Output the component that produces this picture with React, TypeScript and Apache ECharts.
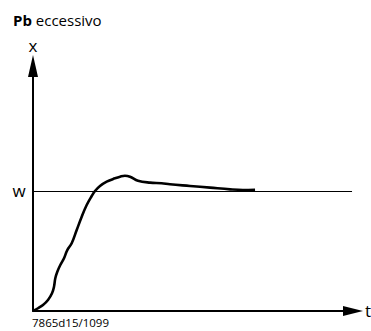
import React, { useEffect, useRef } from "react";
import * as echarts from "echarts";

const timeValues = [0, 1.57, 3.13, 4.7, 5.96, 6.58, 6.99, 7.62, 8.56, 9.72, 10.75, 12.13, 13.7, 15.27, 16.83, 18.4, 19.44, 21.0, 23.1, 25.7, 27.3, 28.8, 30.4, 32.9, 36.7, 40.3, 42.9, 49.2, 55.5, 61.8, 65.8, 69.6];
const xValues = [0, 0.023, 0.05, 0.092, 0.148, 0.203, 0.274, 0.329, 0.385, 0.441, 0.51, 0.567, 0.678, 0.789, 0.887, 0.962, 1.004, 1.046, 1.082, 1.11, 1.124, 1.132, 1.124, 1.09, 1.074, 1.069, 1.06, 1.046, 1.032, 1.018, 1.013, 1.015];
const setpointW = 1;
const wLineEnd = 100;
const axisLabels = { y: "x", x: "t", w: "w" };
const titleBold = "Pb";
const titleRest = " eccessivo";
const footnote = "7865d15/1099";

const FONT = "'Open Sans', 'DejaVu Sans', sans-serif";

export default function App() {
  const ref = useRef<HTMLDivElement>(null);
  useEffect(() => {
    if (!ref.current) return;
    const chart = echarts.init(ref.current, null, { renderer: "svg" });
    chart.setOption({
      animation: false,
      backgroundColor: "#ffffff",
      grid: { left: 33, right: 18, top: 66, bottom: 20 },
      xAxis: {
        type: "value",
        min: 0,
        max: 100.3,
        axisLine: {
          show: true,
          symbol: ["none", "triangle"],
          symbolSize: [10, 20],
          lineStyle: { color: "#000", width: 2 },
        },
        axisTick: { show: false },
        axisLabel: { show: false },
        splitLine: { show: false },
      },
      yAxis: {
        type: "value",
        min: 0,
        max: 2.05,
        axisLine: {
          show: true,
          symbol: ["none", "triangle"],
          symbolSize: [10, 22],
          lineStyle: { color: "#000", width: 2 },
        },
        axisTick: { show: false },
        axisLabel: { show: false },
        splitLine: { show: false },
      },
      series: [
        {
          type: "line",
          data: timeValues.map((t, i) => [t, xValues[i]]),
          smooth: 0.4,
          showSymbol: false,
          lineStyle: { color: "#000", width: 2.6 },
          markLine: {
            silent: true,
            symbol: ["none", "none"],
            label: { show: false },
            lineStyle: { color: "#000", width: 1, type: "solid" },
            data: [[{ coord: [0, setpointW] }, { coord: [wLineEnd, setpointW] }]],
          },
        },
      ],
      graphic: [
        {
          type: "text",
          left: 13,
          top: 12,
          style: {
            text: `{b|${titleBold}}{n|${titleRest}}`,
            rich: {
              b: { fontFamily: FONT, fontSize: 15, fontWeight: "bold", fill: "#000" },
              n: { fontFamily: FONT, fontSize: 15, fill: "#000" },
            },
          },
        },
        {
          type: "text",
          x: 33,
          y: 45,
          style: { text: axisLabels.y, fontFamily: FONT, fontSize: 17, fill: "#000", align: "center", verticalAlign: "middle" },
        },
        {
          type: "text",
          x: 19,
          y: 190,
          style: { text: axisLabels.w, fontFamily: FONT, fontSize: 17, fill: "#000", align: "center", verticalAlign: "middle" },
        },
        {
          type: "text",
          x: 365,
          y: 310,
          style: { text: axisLabels.x, fontFamily: FONT, fontSize: 17, fill: "#000", align: "left", verticalAlign: "middle" },
        },
        {
          type: "text",
          x: 32,
          y: 322,
          style: { text: footnote, fontFamily: FONT, fontSize: 11.5, fill: "#000", align: "left", verticalAlign: "middle" },
        },
      ],
    });
    return () => chart.dispose();
  }, []);
  return (
    <div
      ref={ref}
      style={{ position: "absolute", left: 0, top: 0, width: 371, height: 331 }}
    />
  );
}
